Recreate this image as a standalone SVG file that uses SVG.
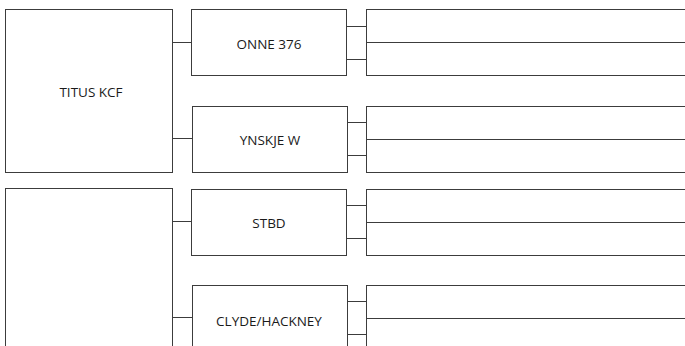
<svg xmlns="http://www.w3.org/2000/svg" width="685" height="346" viewBox="0 0 685 346">
<style>
.b{fill:#fff;stroke:#3c3c3c;stroke-width:1}
.c{stroke:#3c3c3c;stroke-width:1;fill:none}
.t{font-family:"Open Sans","Noto Sans",sans-serif;font-size:13.5px;fill:#1a1a1a;text-anchor:middle}
</style>
<rect width="685" height="346" fill="#fff"/>
<g id="connectors">
<path class="c" d="M172.5 42.5H191.5M172.5 138.5H192.5M172.5 221.5H191.5M172.5 317.5H192.5"/>
<path class="c" d="M346.5 26.5H366.5M346.5 59.5H366.5M347.5 122.5H366.5M347.5 155.5H366.5M346.5 205.5H366.5M346.5 238.5H366.5M347.5 301.5H366.5M347.5 334.5H366.5"/>
</g>
<g id="titus"><rect class="b" x="5.5" y="9.5" width="167" height="163"/><text class="t" x="91" y="96.5">TITUS KCF</text></g>
<g id="second"><rect class="b" x="5.5" y="188.5" width="167" height="170"/></g>
<g id="onne"><rect class="b" x="191.5" y="9.5" width="155" height="66"/><text class="t" x="269" y="49">ONNE 376</text></g>
<g id="ynskje"><rect class="b" x="192.5" y="106.5" width="155" height="66"/><text class="t" x="270" y="145">YNSKJE W</text></g>
<g id="stbd"><rect class="b" x="191.5" y="189.5" width="155" height="66"/><text class="t" x="269" y="228">STBD</text></g>
<g id="clyde"><rect class="b" x="192.5" y="285.5" width="155" height="70"/><text class="t" x="269" y="325.5">CLYDE/HACKNEY</text></g>
<g id="onne-r"><rect class="b" x="366.5" y="9.5" width="330" height="66"/><path class="c" d="M366.5 42.5H696"/></g>
<g id="ynskje-r"><rect class="b" x="366.5" y="106.5" width="330" height="66"/><path class="c" d="M366.5 139.5H696"/></g>
<g id="stbd-r"><rect class="b" x="366.5" y="189.5" width="330" height="66"/><path class="c" d="M366.5 222.5H696"/></g>
<g id="clyde-r"><rect class="b" x="366.5" y="285.5" width="330" height="70"/><path class="c" d="M366.5 318.5H696"/></g>
</svg>
